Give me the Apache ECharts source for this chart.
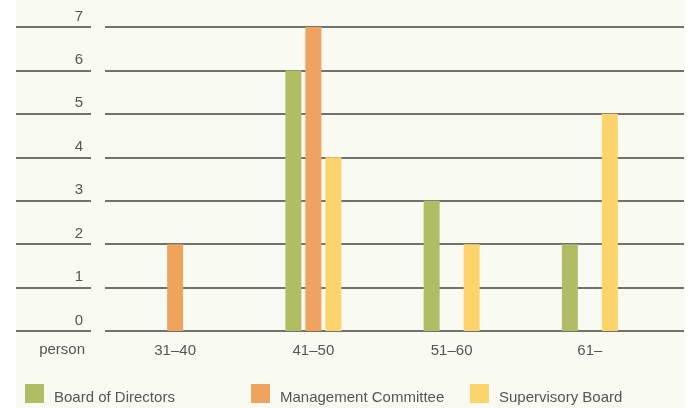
<!DOCTYPE html>
<html>
<head>
<meta charset="utf-8">
<script src="https://cdn.jsdelivr.net/npm/echarts@6/dist/echarts.min.js"></script>
<style>
  html, body { margin: 0; padding: 0; background: #ffffff; }
  #chart { width: 688px; height: 408px; }
</style>
</head>
<body>
<div id="chart"></div>
<script>
// Age groups and head counts per body
const categories = ['31–40', '41–50', '51–60', '61–'];
const boardOfDirectors = [0, 6, 3, 2];
const managementCommittee = [2, 7, 0, 0];
const supervisoryBoard = [0, 4, 2, 5];
const yTicks = [0, 1, 2, 3, 4, 5, 6, 7];

const FONT = '"Liberation Sans", sans-serif';
const SIZE = 15;
const TEXT = '#555555';
const LINE = '#45453f';
const yMin = yTicks[0], yMax = yTicks[yTicks.length - 1];

const chart = echarts.init(document.getElementById('chart'), null, { renderer: 'canvas' });

const valueAxisBase = (gridIndex) => ({
  type: 'value', gridIndex, min: yMin, max: yMax, interval: 1,
  axisLine: { show: false }, axisTick: { show: false },
  splitLine: { show: true, lineStyle: { color: LINE, width: 1.5 } }
});

// one legend block per series, each placed on its own
const legendFor = (name, left) => ({
  data: [name], left, top: 384, padding: 0,
  icon: 'rect', itemWidth: 19, itemHeight: 19,
  selectedMode: false,
  formatter: '{t|{name}}',
  textStyle: {
    fontFamily: FONT, fontSize: SIZE, color: TEXT,
    rich: { t: { fontFamily: FONT, fontSize: SIZE, color: TEXT, padding: [8, 0, 0, 5] } }
  }
});

chart.setOption({
  backgroundColor: '#ffffff',
  animation: false,
  graphic: [
    { type: 'rect', z: -10, shape: { x: 16, y: 0, width: 669, height: 408 },
      style: { fill: '#f9faf2' } },
    { type: 'text', right: 603, top: 342,
      style: { text: 'person', font: SIZE + 'px ' + FONT, fill: TEXT } }
  ],
  grid: [
    { left: 16, width: 75, top: 27, bottom: 77 },
    { left: 105, right: 4, top: 27, bottom: 77 },
    { left: 106, right: 29, top: 27, bottom: 77 }
  ],
  xAxis: [
    { type: 'category', gridIndex: 0, show: false, data: [''] },
    { type: 'category', gridIndex: 1, show: false, data: [''] },
    { type: 'category', gridIndex: 2, data: categories,
      axisLine: { show: false }, axisTick: { show: false },
      axisLabel: { fontFamily: FONT, fontSize: SIZE, color: TEXT, margin: 12 } }
  ],
  yAxis: [
    Object.assign(valueAxisBase(0), {
      position: 'right',
      axisLabel: { inside: true, margin: 8, fontFamily: FONT, fontSize: SIZE, color: TEXT,
                   verticalAlign: 'bottom', padding: [0, 0, 3, 0] }
    }),
    Object.assign(valueAxisBase(1), { axisLabel: { show: false } }),
    Object.assign(valueAxisBase(2), { show: false, splitLine: { show: false } })
  ],
  legend: [
    legendFor('Board of Directors', 25),
    legendFor('Management Committee', 251),
    legendFor('Supervisory Board', 470)
  ],
  series: [
    { name: 'Board of Directors', type: 'bar', xAxisIndex: 2, yAxisIndex: 2,
      data: boardOfDirectors, barWidth: 16, barGap: '25%',
      itemStyle: { color: '#b1bd65' } },
    { name: 'Management Committee', type: 'bar', xAxisIndex: 2, yAxisIndex: 2,
      data: managementCommittee, barWidth: 16, barGap: '25%',
      itemStyle: { color: '#eea35f' } },
    { name: 'Supervisory Board', type: 'bar', xAxisIndex: 2, yAxisIndex: 2,
      data: supervisoryBoard, barWidth: 16, barGap: '25%',
      itemStyle: { color: '#fdd46b' } }
  ]
});
</script>
</body>
</html>
